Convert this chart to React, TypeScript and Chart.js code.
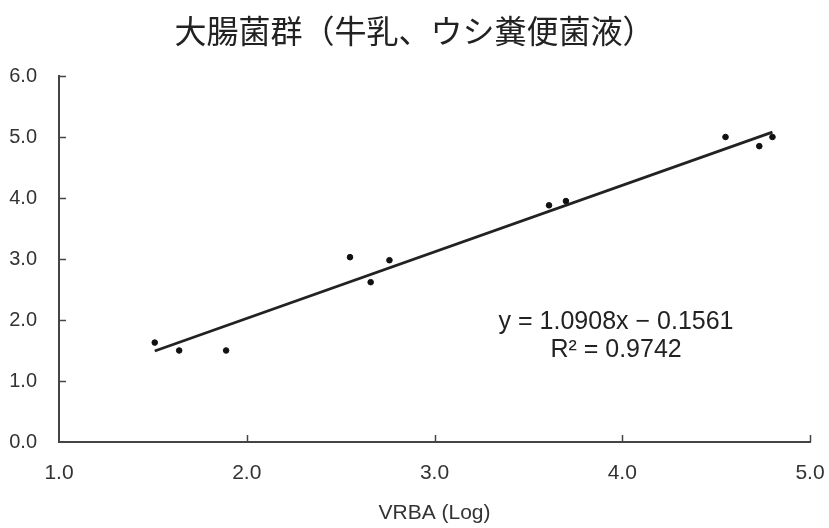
import React, { useEffect, useRef } from "react";
import { Chart, registerables } from "chart.js";

Chart.register(...registerables);

const titleText = "大腸菌群（牛乳、ウシ糞便菌液）";
const xAxisTitle = "VRBA (Log)";
const xValues = [1.51, 1.64, 1.89, 2.55, 2.66, 2.76, 3.61, 3.7, 4.55, 4.73, 4.8];
const yValues = [1.63, 1.5, 1.5, 3.03, 2.62, 2.98, 3.88, 3.95, 5.0, 4.85, 5.0];
const trendSlope = 1.0908;
const trendIntercept = -0.1561;
const rSquared = 0.9742;
const xTicks = [1, 2, 3, 4, 5];
const yTicks = [0, 1, 2, 3, 4, 5, 6];

const labelPos = { x: 3.967, y1: 1.96, y2: 1.5 };

const extras = {
  id: "extras",
  afterDraw(chart: any) {
    const { ctx, chartArea, scales } = chart;
    ctx.save();
    ctx.strokeStyle = "#444";
    ctx.lineWidth = 1.5;
    for (const v of yTicks.slice(1)) {
      const py = Math.round(scales.y.getPixelForValue(v)) + 0.5;
      ctx.beginPath();
      ctx.moveTo(chartArea.left, py);
      ctx.lineTo(chartArea.left + 7, py);
      ctx.stroke();
    }
    for (const v of xTicks.slice(1)) {
      const px = Math.round(scales.x.getPixelForValue(v)) + 0.5;
      ctx.beginPath();
      ctx.moveTo(px, chartArea.bottom);
      ctx.lineTo(px, chartArea.bottom - 7);
      ctx.stroke();
    }
    // title
    ctx.fillStyle = "#222";
    ctx.font = "32px 'Noto Sans CJK JP', sans-serif";
    ctx.textAlign = "center";
    ctx.textBaseline = "middle";
    ctx.fillText(titleText, chart.width / 2, 31);
    // trendline equation
    ctx.font = "25px 'Liberation Sans', Arial, sans-serif";
    const cx = scales.x.getPixelForValue(labelPos.x);
    ctx.fillText(
      `y = ${trendSlope.toFixed(4)}x \u2212 ${Math.abs(trendIntercept).toFixed(4)}`,
      cx,
      scales.y.getPixelForValue(labelPos.y1)
    );
    ctx.fillText(`R² = ${rSquared.toFixed(4)}`, cx, scales.y.getPixelForValue(labelPos.y2));
    ctx.restore();
  },
};

export default function App() {
  const ref = useRef<HTMLCanvasElement>(null);
  useEffect(() => {
    document.body.style.margin = "0";
    const xMin = Math.min(...xValues);
    const xMax = Math.max(...xValues);
    const trend = [
      { x: xMin, y: trendSlope * xMin + trendIntercept },
      { x: xMax, y: trendSlope * xMax + trendIntercept },
    ];
    const chart = new Chart(ref.current!, {
      type: "scatter",
      data: {
        datasets: [
          {
            type: "line",
            data: trend,
            borderColor: "#222",
            borderWidth: 2.8,
            pointRadius: 0,
            showLine: true,
            fill: false,
          } as any,
          {
            data: xValues.map((x, i) => ({ x, y: yValues[i] })),
            backgroundColor: "#111",
            borderColor: "#111",
            pointRadius: 2.8,
            pointStyle: "circle",
          },
        ],
      },
      plugins: [extras],
      options: {
        responsive: false,
        animation: false,
        layout: { padding: { left: 0, right: 19, top: 76, bottom: 0 } },
        plugins: {
          legend: { display: false },
          tooltip: { enabled: false },
          title: { display: false },
        },
        scales: {
          x: {
            type: "linear",
            min: 1,
            max: 5,
            afterFit: (s: any) => {
              s.height = 86;
              s.paddingLeft = 0;
              s.paddingRight = 0;
            },
            afterBuildTicks: (s: any) => {
              s.ticks = xTicks.map((v) => ({ value: v }));
            },
            grid: { display: false },
            border: { display: true, color: "#444", width: 2 },
            ticks: {
              color: "#333",
              padding: 11,
              font: { family: "'Liberation Sans', Arial, sans-serif", size: 21 },
              callback: (v: any) => Number(v).toFixed(1),
            },
            title: {
              display: true,
              text: xAxisTitle,
              color: "#333",
              font: { family: "'Liberation Sans', Arial, sans-serif", size: 21 },
              padding: { top: 10, bottom: 2 },
            },
          },
          y: {
            type: "linear",
            min: 0,
            max: 6,
            afterFit: (s: any) => {
              s.width = 59;
              s.paddingTop = 0;
              s.paddingBottom = 0;
            },
            afterBuildTicks: (s: any) => {
              s.ticks = yTicks.map((v) => ({ value: v }));
            },
            grid: { display: false },
            border: { display: true, color: "#444", width: 2 },
            ticks: {
              color: "#333",
              padding: 14,
              font: { family: "'Liberation Sans', Arial, sans-serif", size: 20 },
              callback: (v: any) => Number(v).toFixed(1),
            },
          },
        },
      },
    });
    return () => chart.destroy();
  }, []);
  return <canvas ref={ref} width={829} height={528} style={{ display: "block" }} />;
}
